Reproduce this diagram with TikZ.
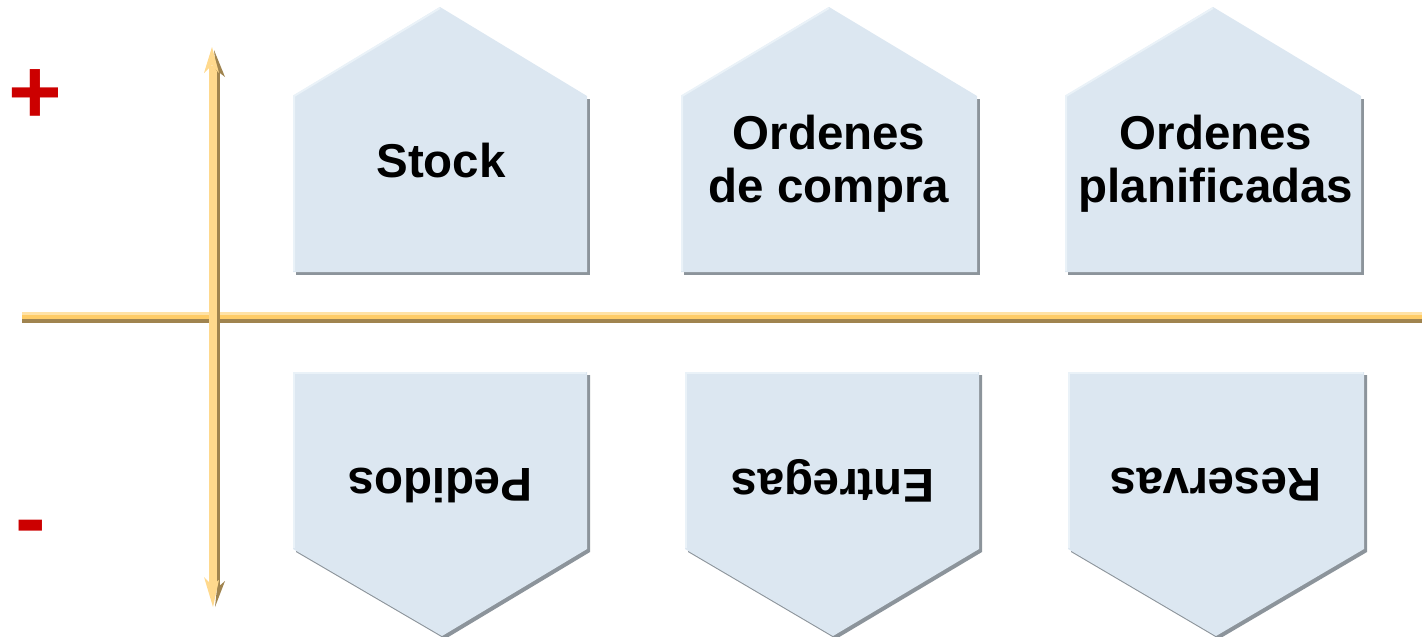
\documentclass[tikz,border=0pt]{standalone}
\usepackage{fontspec}
\setmainfont{Liberation Sans}
\definecolor{boxblue}{HTML}{DCE7F1}
\definecolor{shadowgray}{HTML}{8C949B}
\definecolor{hiblue}{HTML}{EAF2F8}
\definecolor{signred}{HTML}{CC0000}
\definecolor{ormid}{HTML}{FFCC66}
\definecolor{orlight}{HTML}{FFE2A6}
\definecolor{ordark}{HTML}{A0844F}
\begin{document}
\begin{tikzpicture}[x=1pt,y=-1pt,
  shapefill/.style={fill=boxblue},
  shadowfill/.style={fill=shadowgray},
  hilite/.style={draw=hiblue, line width=2pt},
  boxtext/.style={font=\bfseries\fontsize{47.5}{53}\selectfont, align=center, inner sep=0pt},
  signtext/.style={font=\bfseries\fontsize{92}{92}\selectfont, text=signred, inner sep=0pt, anchor=base}]
\useasboundingbox (0,0) rectangle (1422,637);
% top shapes
\foreach \L/\R/\A in {293/587/440, 681/977/829, 1065/1361/1213}{
  \fill[shadowfill] (\L+3,99) rectangle (\R+3,275);
  \fill[shapefill] (\L,272) -- (\L,96) -- (\A,7) -- (\R,96) -- (\R,272) -- cycle;
  \draw[hilite] (\L+1,271) -- (\L+1,96) -- (\A,8);
}
% bottom shapes
\foreach \L/\R/\A in {293/587/442, 685/979/833, 1068/1364/1216}{
  \fill[shadowfill] (\L+3,375) -- (\R+3,375) -- (\R+3,552) -- (\A+3,639) -- (\L+3,552) -- cycle;
  \fill[shapefill] (\L,372) -- (\R,372) -- (\R,549) -- (\A,636) -- (\L,549) -- cycle;
  \draw[hilite] (\L+1,548) -- (\L+1,373) -- (\R-1,373);
}
% texts
\node[boxtext] (stock) at (441,161) {Stock};
\node[boxtext] (ocompra) at (829,164) {Ordenes\\de compra};
\node[boxtext] (oplan) at (1216,164) {Ordenes\\planificadas};
\node[boxtext, rotate=180] (pedidos) at (440,485) {Pedidos};
\node[boxtext, rotate=180] (entregas) at (833,481) {Entregas};
\node[boxtext, rotate=180] (reservas) at (1216,485) {Reservas};
% horizontal axis
\fill[orlight] (22,312) rectangle (1422,315);
\fill[ormid] (22,315) rectangle (1422,319);
\fill[ordark] (22,319) rectangle (1422,323);
% vertical axis
\fill[orlight!60!ormid] (209,66) rectangle (217,590);
\fill[ordark] (217,68) rectangle (220,588);
\fill[ordark] (214,50) -- (225,77) -- (216,70) -- cycle;
\fill[orlight!60!ormid] (212,47) -- (204,73) -- (212,65) -- (219,73) -- cycle;
\fill[ordark] (215,607) -- (225,581) -- (217,588) -- cycle;
\fill[orlight!60!ormid] (213,607) -- (204,577) -- (212,585) -- (219,580) -- cycle;
% signs
\node[signtext] (plus) at (35,123) {+};
\node[signtext] (minus) at (31,549) {-};
\end{tikzpicture}
\end{document}
